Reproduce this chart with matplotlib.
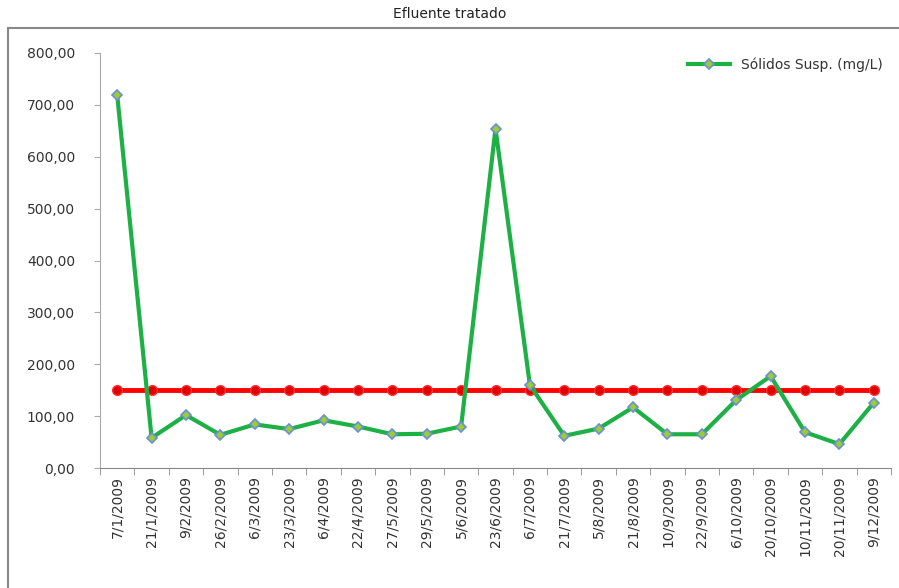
import matplotlib.pyplot as plt
from matplotlib.patches import Rectangle
from matplotlib.ticker import FuncFormatter

datas = ["7/1/2009", "21/1/2009", "9/2/2009", "26/2/2009", "6/3/2009", "23/3/2009",
         "6/4/2009", "22/4/2009", "27/5/2009", "29/5/2009", "5/6/2009", "23/6/2009",
         "6/7/2009", "21/7/2009", "5/8/2009", "21/8/2009", "10/9/2009", "22/9/2009",
         "6/10/2009", "20/10/2009", "10/11/2009", "20/11/2009", "9/12/2009"]
solidos = [719, 58, 102, 64, 84, 75, 92, 80, 65, 66, 80, 654,
           160, 62, 76, 117, 65, 65, 131, 177, 69, 46, 126]
limite = [150] * len(datas)

fig = plt.figure(figsize=(8.99, 5.88), dpi=100)
ax = fig.add_axes([100 / 899, 1 - 468 / 588, 791 / 899, 415 / 588])

x = list(range(len(datas)))
# Limite (linha vermelha)
ax.plot(x, limite, color="#ff0000", lw=3.5, marker="o", ms=7,
        markerfacecolor="#e00000", markeredgecolor="#ff3030", zorder=2)
# Série principal
ax.plot(x, solidos, color="#1db045", lw=3, marker="D", ms=5.5,
        markerfacecolor="#9acd32", markeredgecolor="#6b8fd6", markeredgewidth=1.2,
        label="Sólidos Susp. (mg/L)", zorder=3)

ax.set_xlim(-0.5, len(datas) - 0.5)
ax.set_ylim(0, 800)
ax.set_yticks(range(0, 801, 100))
ax.yaxis.set_major_formatter(FuncFormatter(lambda v, p: f"{v:.2f}".replace(".", ",")))
ax.set_xticks(x)
ax.set_xticklabels(datas, rotation=90, fontsize=10, color="#333333")
ax.set_xticks([i + 0.5 for i in range(-1, len(datas))], minor=True)
ax.tick_params(axis="x", which="major", length=0, pad=6)
ax.tick_params(axis="x", which="minor", length=5, color="#888888", direction="out")
ax.tick_params(axis="y", length=4, color="#aaaaaa", labelsize=10, labelcolor="#333333", pad=14)

for s in ["top", "right"]:
    ax.spines[s].set_visible(False)
ax.spines["left"].set_color("#aaaaaa")
ax.spines["bottom"].set_color("#888888")

leg = ax.legend(loc="upper right", frameon=False, fontsize=10, handlelength=3,
                bbox_to_anchor=(1.0, 1.01), borderaxespad=0.2)
for t in leg.get_texts():
    t.set_color("#333333")

# moldura do gráfico
fig.patches.append(Rectangle((8 / 899, -0.1), 1.2, 1 - 28 / 588 + 0.1,
                             transform=fig.transFigure, fill=False,
                             edgecolor="#888888", lw=1.5))
fig.text(0.5, 1 - 14 / 588, "Efluente tratado", ha="center", va="center",
         fontsize=10, color="#222222")

fig.savefig("out.png", dpi=100)
